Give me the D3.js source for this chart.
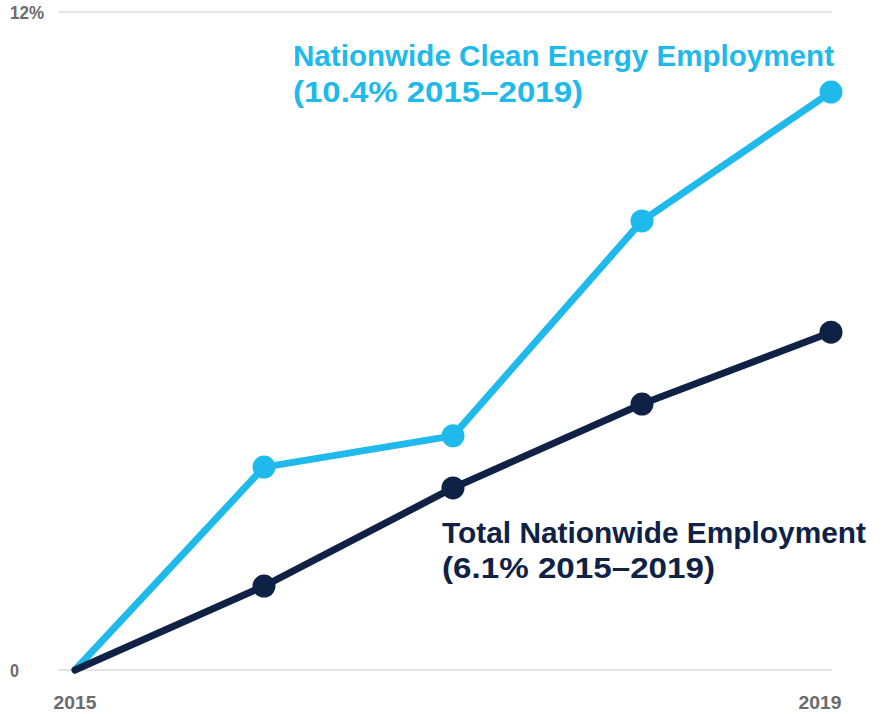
<!DOCTYPE html>
<html><head><meta charset="utf-8">
<script src="https://cdn.jsdelivr.net/npm/d3@7"></script>
<style>
body{margin:0;background:#fff;}
svg{display:block;font-family:"Liberation Sans",Arial,sans-serif;}
</style></head><body>
<svg id="c" width="885" height="714"></svg>
<script>
const years = [2015, 2016, 2017, 2018, 2019];
const cleanEnergy = [0, 3.70, 4.27, 8.19, 10.54];
const totalEmployment = [0, 1.53, 3.32, 4.85, 6.16];
const yTicks = [0, 12];
const yTickLabels = ["0", "12%"];
const xTickLabels = ["2015", "2019"];
const seriesLabels = [
  ["Nationwide Clean Energy Employment", "(10.4% 2015\u20132019)"],
  ["Total Nationwide Employment", "(6.1% 2015\u20132019)"]
];

const svg = d3.select("#c");
const x = d3.scaleLinear().domain([2015, 2019]).range([75, 831]);
const y = d3.scaleLinear().domain([0, 12]).range([670, 12]);
const gray = "#6b6b6b";
const light = "#20b9ec";
const dark = "#0f2246";

// gridlines
svg.selectAll("line.grid").data(yTicks).enter().append("line")
  .attr("x1", 58).attr("x2", 832)
  .attr("y1", d => y(d)).attr("y2", d => y(d))
  .attr("stroke", "#c8c8c8").attr("stroke-width", 1.2);

// y labels
svg.selectAll("text.yl").data(yTicks).enter().append("text")
  .attr("x", 10).attr("y", d => y(d) + 7)
  .attr("fill", gray).attr("font-weight", "bold").attr("font-size", 18)
  .attr("textLength", (d, i) => i === 0 ? 9 : 34).attr("lengthAdjust", "spacingAndGlyphs")
  .text((d, i) => yTickLabels[i]);

// x labels
const xl = [2015, 2019];
svg.selectAll("text.xl").data(xl).enter().append("text")
  .attr("x", (d, i) => i === 0 ? x(d) : 820)
  .attr("y", 709).attr("text-anchor", "middle")
  .attr("fill", gray).attr("font-weight", "bold").attr("font-size", 19)
  .attr("textLength", 43).attr("lengthAdjust", "spacingAndGlyphs")
  .text((d, i) => xTickLabels[i]);

const line = d3.line().x(d => x(d[0])).y(d => y(d[1]));
function drawSeries(vals, color) {
  const pts = years.map((yr, i) => [yr, vals[i]]);
  svg.append("path").datum(pts).attr("d", line)
    .attr("fill", "none").attr("stroke", color).attr("stroke-width", 7)
    .attr("stroke-linecap", "round").attr("stroke-linejoin", "round");
  svg.selectAll(null).data(pts.slice(1)).enter().append("circle")
    .attr("cx", d => x(d[0])).attr("cy", d => y(d[1])).attr("r", 11.5)
    .attr("fill", color);
}
drawSeries(cleanEnergy, light);
drawSeries(totalEmployment, dark);

function label(lines, xPos, y1, y2, color, w1, w2) {
  const t = svg.append("text").attr("fill", color).attr("font-weight", "bold").attr("font-size", 29);
  t.append("tspan").attr("x", xPos).attr("y", y1).attr("textLength", w1).attr("lengthAdjust", "spacingAndGlyphs").text(lines[0]);
  t.append("tspan").attr("x", xPos).attr("y", y2).attr("textLength", w2).attr("lengthAdjust", "spacingAndGlyphs").text(lines[1]);
}
label(seriesLabels[0], 293, 66, 102, light, 541, 290);
label(seriesLabels[1], 442, 543, 578, dark, 424, 273);
</script>
</body></html>
